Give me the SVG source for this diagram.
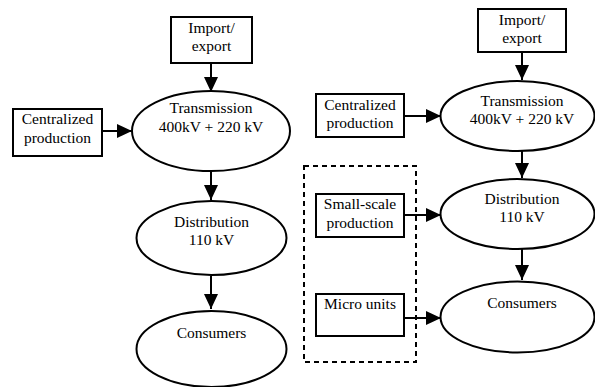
<svg xmlns="http://www.w3.org/2000/svg" width="595" height="387" viewBox="0 0 595 387">
<defs>
<marker id="arr" viewBox="0 0 15 14" refX="15" refY="7" markerWidth="15" markerHeight="14" markerUnits="userSpaceOnUse" orient="auto">
<path d="M0,0 L15,7 L0,14 Z" fill="#000"/>
</marker>
</defs>
<style>
.box{fill:#fff;stroke:#000;stroke-width:2}
.ell{fill:#fff;stroke:#000;stroke-width:2}
.dash{fill:none;stroke:#000;stroke-width:2;stroke-dasharray:5,4}
.con{stroke:#000;stroke-width:2;fill:none;marker-end:url(#arr)}
.t{font-family:'Liberation Serif','Times New Roman',Times,'DejaVu Serif',serif;font-size:15.5px;fill:#000;text-anchor:middle}
</style>
<rect width="595" height="387" fill="#fff"/>
<g id="connectors">
<line class="con" x1="211" y1="63" x2="211" y2="92"/>
<line class="con" x1="102" y1="131" x2="132" y2="131"/>
<line class="con" x1="211" y1="171" x2="211" y2="200"/>
<line class="con" x1="211" y1="276" x2="211" y2="309"/>
<line class="con" x1="522" y1="52" x2="522" y2="80"/>
<line class="con" x1="404" y1="116" x2="441" y2="116"/>
<line class="con" x1="522" y1="151" x2="522" y2="178"/>
<line class="con" x1="404" y1="215" x2="441" y2="215"/>
<line class="con" x1="522" y1="249" x2="522" y2="280"/>
<line class="con" x1="404" y1="318" x2="441" y2="318"/>
</g>
<g id="left-import">
<rect class="box" x="171" y="17" width="81" height="46"/>
<text class="t" font-family="'Liberation Serif', serif" x="211.5" y="33">Import/</text>
<text class="t" font-family="'Liberation Serif', serif" x="211.5" y="51">export</text>
</g>
<g id="left-transmission">
<ellipse class="ell" cx="211" cy="131" rx="79" ry="40"/>
<text class="t" x="211" y="113">Transmission</text>
<text class="t" x="211" y="132">400kV + 220 kV</text>
</g>
<g id="left-centralized">
<rect class="box" x="13" y="109" width="89" height="47"/>
<text class="t" x="57.5" y="124">Centralized</text>
<text class="t" x="57.5" y="143">production</text>
</g>
<g id="left-distribution">
<ellipse class="ell" cx="211.5" cy="238" rx="75" ry="37"/>
<text class="t" x="211.5" y="227">Distribution</text>
<text class="t" x="211.5" y="245">110 kV</text>
</g>
<g id="left-consumers">
<ellipse class="ell" cx="211.5" cy="349" rx="75" ry="38"/>
<text class="t" x="211.5" y="338">Consumers</text>
</g>
<g id="right-import">
<rect class="box" x="478" y="9" width="88" height="43"/>
<text class="t" x="522" y="25">Import/</text>
<text class="t" x="522" y="43">export</text>
</g>
<g id="right-transmission">
<ellipse class="ell" cx="517.5" cy="116" rx="77" ry="35"/>
<text class="t" x="522" y="106">Transmission</text>
<text class="t" x="522" y="124">400kV + 220 kV</text>
</g>
<g id="right-centralized">
<rect class="box" x="316" y="94" width="88" height="43"/>
<text class="t" x="360" y="110">Centralized</text>
<text class="t" x="360" y="128">production</text>
</g>
<g id="distributed-group">
<rect class="dash" x="304" y="166" width="112" height="196"/>
</g>
<g id="right-smallscale">
<rect class="box" x="316" y="194" width="88" height="43"/>
<text class="t" x="360" y="209">Small-scale</text>
<text class="t" x="360" y="228">production</text>
</g>
<g id="right-micro">
<rect class="box" x="316" y="294" width="88" height="42"/>
<text class="t" x="360" y="309">Micro units</text>
</g>
<g id="right-distribution">
<ellipse class="ell" cx="517.5" cy="214" rx="77" ry="35"/>
<text class="t" x="522" y="204">Distribution</text>
<text class="t" x="522" y="222">110 kV</text>
</g>
<g id="right-consumers">
<ellipse class="ell" cx="517.5" cy="317" rx="77" ry="35.5"/>
<text class="t" x="522" y="308">Consumers</text>
</g>
</svg>
